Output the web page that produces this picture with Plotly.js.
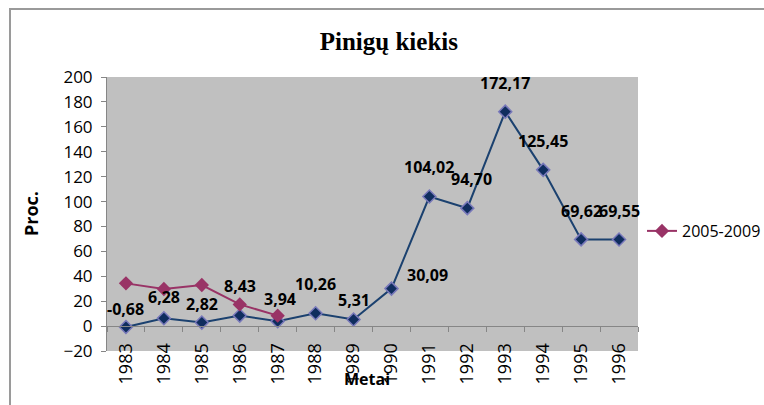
<!DOCTYPE html>
<html>
<head>
<meta charset="utf-8">
<script src="https://cdn.plot.ly/plotly-3.0.1.min.js"></script>
<style>
html,body{margin:0;padding:0;background:#fff;}
#chart{width:764px;height:405px;}
#frame{position:absolute;left:9px;top:8px;width:900px;height:600px;border:2px solid #9a9a9a;pointer-events:none;}
</style>
</head>
<body>
<div id="chart"></div>
<div id="frame"></div>
<script>
// ---- data ----
const years = ["1983","1984","1985","1986","1987","1988","1989","1990","1991","1992","1993","1994","1995","1996"];
const seriesMain = [-0.68, 6.28, 2.82, 8.43, 3.94, 10.26, 5.31, 30.09, 104.02, 94.70, 172.17, 125.45, 69.62, 69.55];
const seriesMainLabels = ["-0,68","6,28","2,82","8,43","3,94","10,26","5,31","30,09","104,02","94,70","172,17","125,45","69,62","69,55"];
const years2 = ["1983","1984","1985","1986","1987"];
const series2005 = [34.3, 29.8, 33.0, 17.4, 8.4];
const series2005Name = "2005-2009";
const chartTitle = "Pinigų kiekis";
const xTitle = "Metai";
const yTitle = "Proc.";

// ---- label placement (styling only) ----
const labelShiftY = [18, 21, 19, 30, 22, 29, 19, 14, 30, 29, 29, 29, 28, 28];
const labelShiftX = [0, 0, 0, 0, 2, 0, 0, 36, 0, 4, 0, 0, 0, 0];

const traces = [
  {
    x: years, y: seriesMain, type: "scatter", mode: "lines+markers",
    showlegend: false, name: "main",
    line: {color: "#1B416F", width: 2},
    marker: {symbol: "diamond", size: 10, color: "#0F2D5E", line: {color: "#7878BA", width: 1.5}},
    hoverinfo: "skip"
  },
  {
    x: years2, y: series2005, type: "scatter", mode: "lines+markers",
    name: series2005Name,
    line: {color: "#993366", width: 2},
    marker: {symbol: "diamond", size: 11, color: "#993366"},
    hoverinfo: "skip"
  }
];

const annotations = seriesMain.map((v, i) => ({
  x: years.indexOf(years[i]), y: v, xref: "x", yref: "y",
  text: seriesMainLabels[i], showarrow: false,
  xanchor: "center", yanchor: "middle",
  yshift: labelShiftY[i], xshift: labelShiftX[i],
  font: {family: "Open Sans", size: 16, color: "#000", weight: "bold"}
}));
annotations.push({
  text: xTitle, xref: "paper", yref: "paper", x: 0.490, y: -0.102,
  xanchor: "center", yanchor: "middle",
  showarrow: false, font: {family: "Open Sans", size: 16, color: "#000", weight: "bold"}
});
annotations.push({
  text: yTitle, xref: "paper", yref: "paper", x: -0.143, y: 0.50, textangle: -90,
  xanchor: "center", yanchor: "middle",
  showarrow: false, font: {family: "Open Sans", size: 18, color: "#000", weight: "bold"}
});

const layout = {
  width: 764, height: 405,
  margin: {l: 107, r: 126, t: 77, b: 54, autoexpand: false},
  paper_bgcolor: "#ffffff",
  plot_bgcolor: "#C0C0C0",
  title: {
    text: chartTitle, x: 0.509, xref: "container", xanchor: "center",
    y: 0.898, yref: "container", yanchor: "middle",
    font: {family: "Liberation Serif", size: 25, color: "#000", weight: "bold"}
  },
  xaxis: {
    type: "category", range: [-0.5, 13.5],
    anchor: "free", position: 0.0909,
    showline: true, linecolor: "#868686", linewidth: 1,
    ticks: "outside", ticklen: 5, tickcolor: "#868686", tickson: "boundaries",
    tickangle: -90, showgrid: false, zeroline: false, ticklabelstandoff: 9,
    tickfont: {family: "Open Sans", size: 18, color: "#000"}
  },
  yaxis: {
    range: [-20, 200], dtick: 20,
    showline: true, linecolor: "#868686", linewidth: 1,
    ticks: "outside", ticklen: 5, tickcolor: "#868686", ticklabelstandoff: 5,
    showgrid: false, zeroline: false,
    tickfont: {family: "Open Sans", size: 17, color: "#000"}
  },
  showlegend: true,
  legend: {
    x: 1.0075, xanchor: "left", y: 0.438, yanchor: "middle",
    bgcolor: "rgba(0,0,0,0)",
    font: {family: "Open Sans", size: 16, color: "#000"}
  },
  annotations: annotations
};

Plotly.newPlot("chart", traces, layout, {displayModeBar: false, staticPlot: true});
</script>
</body>
</html>
